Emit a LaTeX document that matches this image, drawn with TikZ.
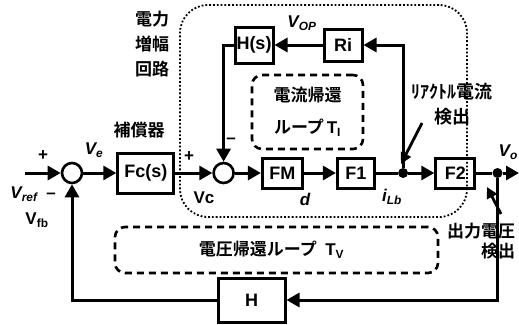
\documentclass[tikz,border=0pt]{standalone}
\usepackage{fontspec}
\setmainfont{Liberation Sans}
\newfontfamily\jp{Noto Sans CJK JP}[UprightFont=* Bold]
\usetikzlibrary{arrows.meta,positioning}
\tikzset{
  blk/.style={draw, line width=3pt, minimum height=30pt, inner sep=1pt,
              font=\bfseries\fontsize{18}{20}\selectfont},
  sumj/.style={draw, circle, line width=2.6pt, minimum size=20pt, inner sep=0pt},
  tap/.style={circle, fill, minimum size=10pt, inner sep=0pt},
  sig/.style={-{Triangle[length=13pt,width=14pt]}, line width=3pt},
  wire/.style={line width=3pt},
  sense/.style={-{Triangle[length=11pt,width=11pt]}, line width=2.8pt},
  loopbox/.style={draw, dash pattern=on 7pt off 5pt, line width=2.6pt,
                  rounded corners=10pt, align=center},
  jlbl/.style={font=\jp\fontsize{17}{25}\selectfont, align=center},
  lbl/.style={font=\bfseries\fontsize{17}{19}\selectfont, inner sep=1pt},
  ilbl/.style={font=\bfseries\itshape\fontsize{17}{19}\selectfont, inner sep=1pt}
}

\begin{document}
\begin{tikzpicture}[x=1pt,y=-1pt]
  \useasboundingbox (0,0) rectangle (519,324);
  % power amplifier region
  \node[draw, dotted, line width=1.8pt, rounded corners=28pt,
        minimum width=287pt, minimum height=212pt] (amp) at (323.5,111) {};
  \node[jlbl] (amplbl) at (152,44) {電力\\増幅\\回路};
  % forward path
  \node[sumj] (sum1) at (72,173) {};
  \node[blk, minimum width=56pt, minimum height=40pt, right=33pt of sum1] (fc) {Fc(s)};
  \node[sumj, right=37pt of fc] (sum2) {};
  \node[blk, minimum width=40pt, right=26pt of sum2] (fm) {FM};
  \node[blk, minimum width=37pt, right=32pt of fm] (f1) {F1};
  \node[tap, right=22pt of f1] (tapL) {};
  \node[blk, minimum width=39pt, right=26pt of tapL] (f2) {F2};
  \node[tap, right=16pt of f2] (tapO) {};
  \coordinate (vin) at (25,173);
  \coordinate (vout) at (519,173);
  \draw[sig] (vin) -- (sum1);
  \draw[sig] (sum1) -- (fc);
  \draw[sig] (fc) -- (sum2);
  \draw[sig] (sum2) -- (fm);
  \draw[sig] (fm) -- (f1);
  \draw[wire] (f1) -- (tapL);
  \draw[sig] (tapL) -- (f2);
  \draw[wire] (f2) -- (tapO);
  \draw[sig] (tapO) -- (vout);
  % current feedback
  \node[blk, minimum width=38pt, minimum height=36pt] (hs) at (254,45) {H(s)};
  \node[blk, minimum width=38pt, minimum height=32pt, right=48pt of hs] (ri) {Ri};
  \draw[sig] (tapL) |- (ri);
  \draw[sig] (ri) -- (hs);
  \draw[sig] (hs) -| (sum2);
  \node[loopbox, font=\jp\fontsize{17}{32}\selectfont, minimum width=111pt,
        minimum height=74pt] (tiloop) at (307.5,112)
        {電流帰還\\ループ\,{\normalfont\bfseries T\textsubscript{I}}};
  % voltage feedback
  \node[blk, minimum width=67pt, minimum height=44pt] (h) at (251.5,300) {H};
  \draw[sig] (tapO) |- (h);
  \draw[sig] (h) -| (sum1);
  \node[loopbox, font=\jp\fontsize{17}{20}\selectfont, minimum width=323pt,
        minimum height=46pt] (tvloop) at (276.5,250)
        {電圧帰還ループ\enspace{\normalfont\bfseries T\textsubscript{V}}\hspace{10pt}};
  % signal labels
  \node[lbl] (plus1) at (43,156) {+};
  \node[lbl] (minus1) at (51,196) {\textendash};
  \node[ilbl] (vref) at (24,194) {V\textsubscript{ref}};
  \node[lbl] (vfb) at (37,220) {V\textsubscript{fb}};
  \node[ilbl] (ve) at (94,150) {V\textsubscript{e}};
  \node[jlbl] (comp) at (139,130) {補償器};
  \node[lbl] (plus2) at (189,157) {+};
  \node[lbl] (minus2) at (231,141) {\textendash};
  \node[lbl] (vc) at (204,198) {Vc};
  \node[ilbl] (duty) at (305,199) {d};
  \node[ilbl] (ilb) at (392,197) {i\textsubscript{Lb}};
  \node[ilbl] (vop) at (302,23) {V\textsubscript{OP}};
  \node[ilbl, anchor=east] (vo) at (519,152) {V\textsubscript{o}};
  % sensing points
  \node[jlbl, font=\jp\fontsize{18}{25}\selectfont] (ilsense) at (452,104) {ﾘｱｸﾄﾙ電流\\検出};
  \coordinate (ilfrom) at (422,123);
  \coordinate (ilto) at (401,164);
  \draw[sense] (ilfrom) -- (ilto);
  \node[jlbl, align=right, font=\jp\fontsize{17}{19.5}\selectfont] (vosense) at (481,241) {出力電圧\\検出};
  \coordinate (vofrom) at (501,214);
  \coordinate (voto) at (487,187);
  \draw[sense] (vofrom) -- (voto);
\end{tikzpicture}
\end{document}
